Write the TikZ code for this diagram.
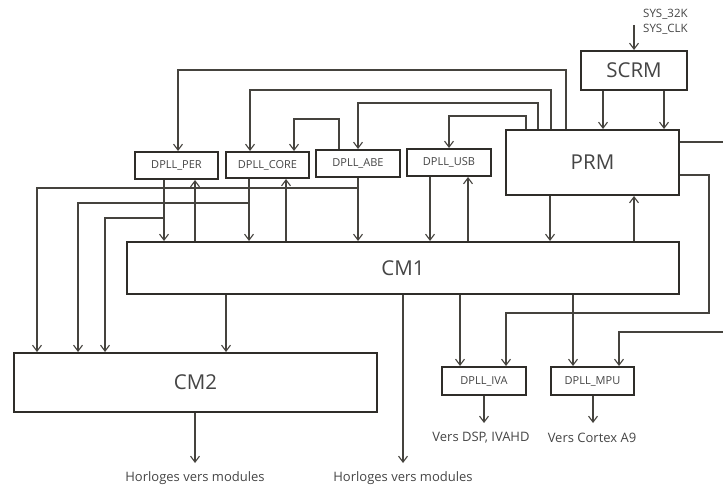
\documentclass[tikz,border=0pt]{standalone}
\usepackage{fontspec}
\setmainfont{Open Sans}
\usetikzlibrary{arrows.meta}
\definecolor{linec}{HTML}{45433E}
\definecolor{boxc}{HTML}{2F2D29}
\definecolor{textc}{HTML}{454545}
\begin{document}
\begin{tikzpicture}[x=1pt,y=-1pt,
  blk/.style={draw=boxc,line width=2pt,fill=white,inner sep=0pt,text=textc,font=\fontsize{20.5}{24}\selectfont},
  dpll/.style={draw=boxc,line width=2pt,fill=white,inner sep=0pt,text=textc,font=\fontsize{11}{13}\selectfont,minimum height=27pt},
  conn/.style={draw=linec,line width=1.1pt,-{Straight Barb[length=6pt,width=9pt,line width=1.1pt]}},
  wire/.style={draw=linec,line width=1.1pt},
  lab/.style={text=textc,inner sep=0pt,font=\fontsize{13}{15}\selectfont}]
\useasboundingbox (0,0) rectangle (723,489);
% blocks
\node[blk,minimum width=106pt,minimum height=39pt] (SCRM) at (634,70.5) {SCRM};
\node[blk,minimum width=173pt,minimum height=65pt] (PRM) at (592.5,162.5) {PRM};
\node[dpll,minimum width=83pt] (PER) at (176.5,165.5) {DPLL\_PER};
\node[dpll,minimum width=83pt,minimum height=26pt] (CORE) at (267.5,165) {DPLL\_CORE};
\node[dpll,minimum width=84pt] (ABE) at (358,163.5) {DPLL\_ABE};
\node[dpll,minimum width=84pt] (USB) at (449,162.5) {DPLL\_USB};
\node[blk,minimum width=552pt,minimum height=52pt] (CM1) at (403,268) {CM1};
\node[blk,minimum width=363pt,minimum height=59pt] (CM2) at (195.5,382.5) {CM2};
\node[dpll,minimum width=84pt,minimum height=28pt] (IVA) at (484,381) {DPLL\_IVA};
\node[dpll,minimum width=83pt,minimum height=28pt] (MPU) at (592.5,381) {DPLL\_MPU};
% free ends
\coordinate (sysin) at (634,25);
\coordinate (prmout1) at (723,142);
\coordinate (mpuin) at (723,332);
\coordinate (cm2out) at (195,463);
\coordinate (cm1out) at (403,463);
\coordinate (ivaout) at (484,423);
\coordinate (mpuout) at (593,423);
% labels
\node[lab,anchor=west,font=\fontsize{11.5}{13}\selectfont] (s32) at (643,14) {SYS\_32K};
\node[lab,anchor=west,font=\fontsize{11.5}{13}\selectfont] (sclk) at (643,29) {SYS\_CLK};
\node[lab] (h1) at (195,478) {Horloges vers modules};
\node[lab] (h2) at (403,478) {Horloges vers modules};
\node[lab] (v1) at (481,438) {Vers DSP, IVAHD};
\node[lab] (v2) at (592,438) {Vers Cortex A9};
% SCRM
\draw[conn] (sysin) -- (SCRM.north);
\draw[conn] (603,0 |- SCRM.south) -- (603,0 |- PRM.north);
\draw[conn] (664,0 |- SCRM.south) -- (664,0 |- PRM.north);
% PRM top feeds
\draw[conn] (566,0 |- PRM.north) -- (566,70) -| (178,0 |- PER.north);
\draw[conn] (551,0 |- PRM.north) -- (551,90) -| (250,0 |- CORE.north);
\draw[conn] (538,0 |- PRM.north) -- (538,103) -| (ABE.north);
\draw[conn] (526,0 |- PRM.north) -- (526,116) -| (USB.north);
\draw[conn] (339,0 |- ABE.north) -- (339,119) -| (294,0 |- CORE.north);
% DPLL outputs to CM1 and CM2
\draw[conn] (164,0 |- PER.south) -- (164,0 |- CM1.north);
\draw[conn] (164,218) -| (105,0 |- CM2.north);
\draw[conn] (195,0 |- CM1.north) -- (195,0 |- PER.south);
\draw[conn] (249,0 |- CORE.south) -- (249,0 |- CM1.north);
\draw[conn] (249,203) -| (78,0 |- CM2.north);
\draw[conn] (286,0 |- CM1.north) -- (286,0 |- CORE.south);
\draw[conn] (ABE.south) -- (358,0 |- CM1.north);
\draw[conn] (358,188) -| (37,0 |- CM2.north);
\draw[conn] (430,0 |- USB.south) -- (430,0 |- CM1.north);
\draw[conn] (468,0 |- CM1.north) -- (468,0 |- USB.south);
\draw[conn] (550,0 |- PRM.south) -- (550,0 |- CM1.north);
\draw[conn] (634,0 |- CM1.north) -- (634,0 |- PRM.south);
% PRM right side
\draw[wire] (PRM.east |- 0,142) -- (prmout1);
\draw[conn] (PRM.east |- 0,175) -- (709,175) -- (709,313) -| (506,0 |- IVA.north);
\draw[conn] (mpuin) -| (619,0 |- MPU.north);
% CM1 bottom
\draw[conn] (226,0 |- CM1.south) -- (226,0 |- CM2.north);
\draw[conn] (403,0 |- CM1.south) -- (cm1out);
\draw[conn] (460,0 |- CM1.south) -- (460,0 |- IVA.north);
\draw[conn] (573,0 |- CM1.south) -- (573,0 |- MPU.north);
% outputs
\draw[conn] (CM2.south -| cm2out) -- (cm2out);
\draw[conn] (IVA.south -| ivaout) -- (ivaout);
\draw[conn] (MPU.south -| mpuout) -- (mpuout);
\end{tikzpicture}
\end{document}
